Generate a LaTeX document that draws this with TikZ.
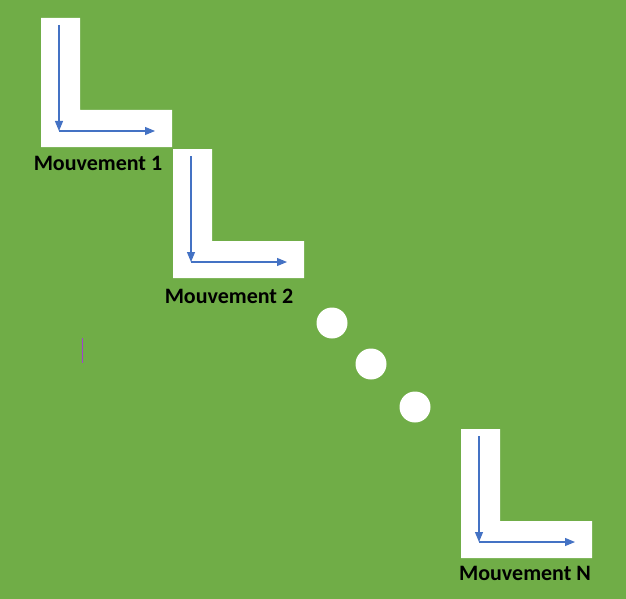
\documentclass[tikz,border=0pt]{standalone}
\usepackage{fontspec}
\setmainfont{Carlito}
\usetikzlibrary{arrows.meta}
\definecolor{bg}{HTML}{70AD47}
\definecolor{arr}{HTML}{4472C4}
\definecolor{pur}{HTML}{A040D0}
\begin{document}
\begin{tikzpicture}[x=1pt,y=-1pt,
  lshape/.style={fill=white},
  mvarrow/.style={draw=arr,line width=1.1pt,-{Triangle[length=10pt,width=8pt]}},
  lbl/.style={font=\bfseries\fontsize{22}{26}\selectfont,text=black,inner sep=0pt},
  dot/.style={circle,fill=white,minimum size=31pt,inner sep=0pt}]
\fill[bg] (0,0) rectangle (626,599);
\useasboundingbox (0,0) rectangle (626,599);
\newcommand\drawL[5]{%
  \begin{scope}[shift={(#1,#2)}]
    \fill[lshape] (0,0) -- (39,0) -- (39,92) -- (131,92) -- (131,129) -- (0,129) -- cycle;
    \coordinate (#3top) at (18,7);
    \coordinate (#3corner) at (18,113);
    \coordinate (#3right) at (114,113);
    \draw[mvarrow] (#3top) -- (#3corner);
    \draw[mvarrow] (#3corner) -- (#3right);
  \end{scope}
  \node[lbl] (#3label) at (#4,#5) {Mouvement \csname lbl#3\endcsname};
}
\expandafter\def\csname lblA\endcsname{1}
\expandafter\def\csname lblB\endcsname{2}
\expandafter\def\csname lblC\endcsname{N}
\drawL{41}{18}{A}{98}{163}
\drawL{173}{149}{B}{229}{296}
\drawL{461}{429}{C}{525}{573}
\node[dot] (d1) at (332,323) {};
\node[dot] (d2) at (371,364) {};
\node[dot] (d3) at (415,407) {};
\coordinate (p1) at (82.5,338);
\coordinate (p2) at (82.5,363);
\draw[pur,line width=1.3pt] (p1) -- (p2);
\end{tikzpicture}
\end{document}
